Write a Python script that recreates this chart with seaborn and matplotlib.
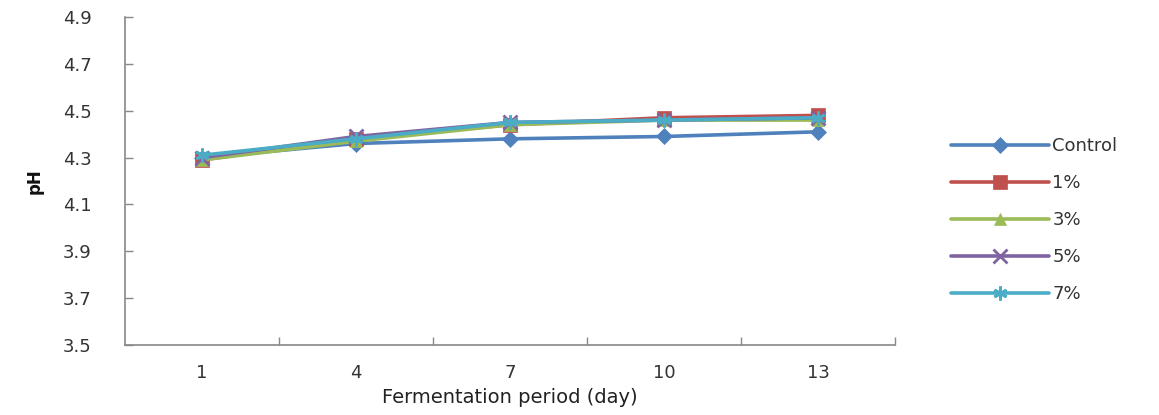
import matplotlib
matplotlib.use("Agg")
import matplotlib.pyplot as plt
import seaborn as sns
import pandas as pd
from matplotlib.ticker import FixedLocator

days = ["1", "4", "7", "10", "13"]
series_names = ["Control", "1%", "3%", "5%", "7%"]
control = [4.30, 4.36, 4.38, 4.39, 4.41]
p1 = [4.29, 4.38, 4.44, 4.47, 4.48]
p3 = [4.29, 4.37, 4.44, 4.46, 4.46]
p5 = [4.30, 4.39, 4.45, 4.46, 4.47]
p7 = [4.31, 4.38, 4.45, 4.46, 4.47]
y_ticks = [3.5, 3.7, 3.9, 4.1, 4.3, 4.5, 4.7, 4.9]

colors = ["#4F81BD", "#C0504D", "#9BBB59", "#8064A2", "#4BACC6"]
markers = ["D", "s", "^", "x", (6, 2, 0)]
msizes = [8, 10, 9, 10, 10]

rows = []
for name, vals in zip(series_names, [control, p1, p3, p5, p7]):
    for i, (d, v) in enumerate(zip(days, vals)):
        rows.append({"pos": i, "day": d, "pH": v, "series": name})
df = pd.DataFrame(rows)

sns.set_style("white")
plt.rcParams["font.family"] = ["DejaVu Sans"]

fig = plt.figure(figsize=(11.59, 4.15), dpi=100)
ax = fig.add_axes([125 / 1159, 1 - 345 / 415, (895 - 125) / 1159, (345 - 17) / 415])

for name, c, m, ms in zip(series_names, colors, markers, msizes):
    sub = df[df["series"] == name]
    sns.lineplot(data=sub, x="pos", y="pH", ax=ax, color=c, marker=m,
                 markersize=ms, linewidth=2.6, markeredgecolor=c,
                 markeredgewidth=2 if m in ("x", (6, 2, 0)) else 0.5,
                 label=name, legend=False)

ax.set_xlim(-0.5, 4.5)
ax.set_ylim(3.5, 4.9)
ax.set_xticks(range(len(days)))
ax.set_xticklabels(days)
ax.xaxis.set_minor_locator(FixedLocator([0.5, 1.5, 2.5, 3.5, 4.5]))
ax.tick_params(axis="x", which="major", bottom=True, length=0, pad=14,
               labelsize=13, labelcolor="#333333")
ax.tick_params(axis="x", which="minor", bottom=True, direction="in", length=6,
               color="#888888", width=1)
ax.set_yticks(y_ticks)
ax.set_yticklabels([f"{t:.1f}" for t in y_ticks])
ax.tick_params(axis="y", which="major", left=True, direction="in", length=6,
               color="#888888", width=1, pad=24, labelsize=13, labelcolor="#333333")

for s in ["top", "right"]:
    ax.spines[s].set_visible(False)
for s in ["left", "bottom"]:
    ax.spines[s].set_color("#888888")
    ax.spines[s].set_linewidth(1.2)

ax.set_xlabel("Fermentation period (day)", fontsize=14, color="#222222", labelpad=4)
ax.set_ylabel("pH", fontsize=12, fontweight="bold", color="#111111", labelpad=14)

handles, labels = ax.get_legend_handles_labels()
leg = fig.legend(handles, labels, loc="upper left", bbox_to_anchor=(944 / 1159, 1 - 130 / 415),
                 frameon=False, fontsize=13, handlelength=5.4, labelspacing=1.05,
                 handletextpad=0.2, borderaxespad=0)
for t in leg.get_texts():
    t.set_color("#333333")

fig.savefig("out.png", dpi=100)
